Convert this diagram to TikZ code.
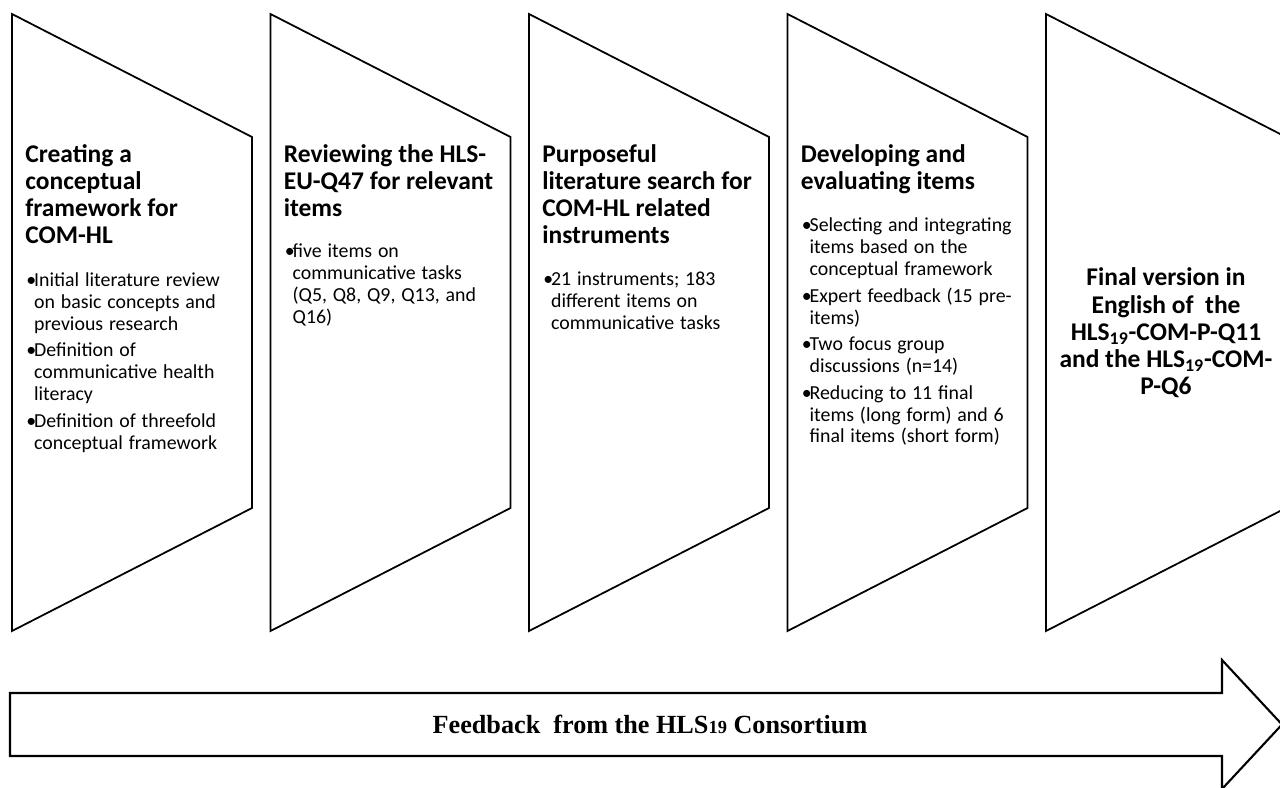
\documentclass[tikz,border=0pt]{standalone}
\usepackage{fontspec}
\setmainfont{Carlito}
\newfontfamily\feedbackfont{Liberation Serif}
\usepackage{tikz}

\newcommand{\phasehead}{\fontsize{14.5}{15.5}\selectfont\bfseries}
\newcommand{\phasebody}{\par\vspace{7pt}\fontsize{11.3}{12.5}\selectfont\mdseries}
\newcommand{\phaseitem}[1]{\par\vspace{4.5pt}\noindent\makebox[5pt][l]{\hspace{0.6pt}•}\parbox[t]{4.4cm}{\raggedright #1}}

\begin{document}
\begin{tikzpicture}[x=0.02cm,y=-0.02cm]
			\tikzstyle{phase}=[draw,line width=1pt,line join=miter]
			\tikzstyle{steptext}=[anchor=north west,inner sep=0pt,text width=4.8cm,align=left]
			\tikzstyle{finaltext}=[inner sep=0pt,align=center,font=\phasehead]
			\tikzset{feedbackarrow/.style = {draw,line width=1.2pt,line join=miter}}
			
			\useasboundingbox (0,0) rectangle (1280,787);
			\clip (0,0) rectangle (1280,787);
			
			% the five phases
			\foreach \x in {12,270.5,529,787.5,1046}
				\draw[phase] (\x,14) -- (\x+240,137) -- (\x+240,508) -- (\x,631) -- cycle;
			
			\node[steptext](framework) at (25,144) {\phasehead Creating a\\conceptual\\framework for\\COM-HL
				\phasebody
				\phaseitem{Initial literature review\\on basic concepts and\\previous research}
				\phaseitem{Definition of\\communicative health\\literacy}
				\phaseitem{Definition of threefold\\conceptual framework}};
			\node[steptext](review) at (283.5,144) {\phasehead Reviewing the HLS-\\EU-Q47 for relevant\\items
				\phasebody
				\phaseitem{five items on\\communicative tasks\\(Q5, Q8, Q9, Q13, and\\Q16)}};
			\node[steptext](search) at (542,144) {\phasehead Purposeful\\literature search for\\COM-HL related\\instruments
				\phasebody
				\phaseitem{21 instruments; 183\\different items on\\communicative tasks}};
			\node[steptext](items) at (800.5,144) {\phasehead Developing and\\evaluating items
				\phasebody
				\phaseitem{Selecting and integrating\\items based on the\\conceptual framework}
				\phaseitem{Expert feedback (15 pre-\\items)}
				\phaseitem{Two focus group\\discussions (n=14)}
				\phaseitem{Reducing to 11 final\\items (long form) and 6\\final items (short form)}};
			\node[finaltext](final) at (1166,333) {Final version in\\English of\ \ the\\HLS\textsubscript{19}-COM-P-Q11\\and the HLS\textsubscript{19}-COM-\\P-Q6};
			
			% feedback arrow
			\draw[feedbackarrow] (10,693) -- (1222,693) -- (1222,660) -- (1282,724.5) -- (1222,789) -- (1222,756) -- (10,756) -- cycle;
			\node[anchor=base,inner sep=0pt](consortium) at (650,733) {\feedbackfont\bfseries\fontsize{14.9}{17}\selectfont Feedback\ \ from the HLS{\fontsize{10.5}{10}\selectfont 19} Consortium};
\end{tikzpicture}
\end{document}
